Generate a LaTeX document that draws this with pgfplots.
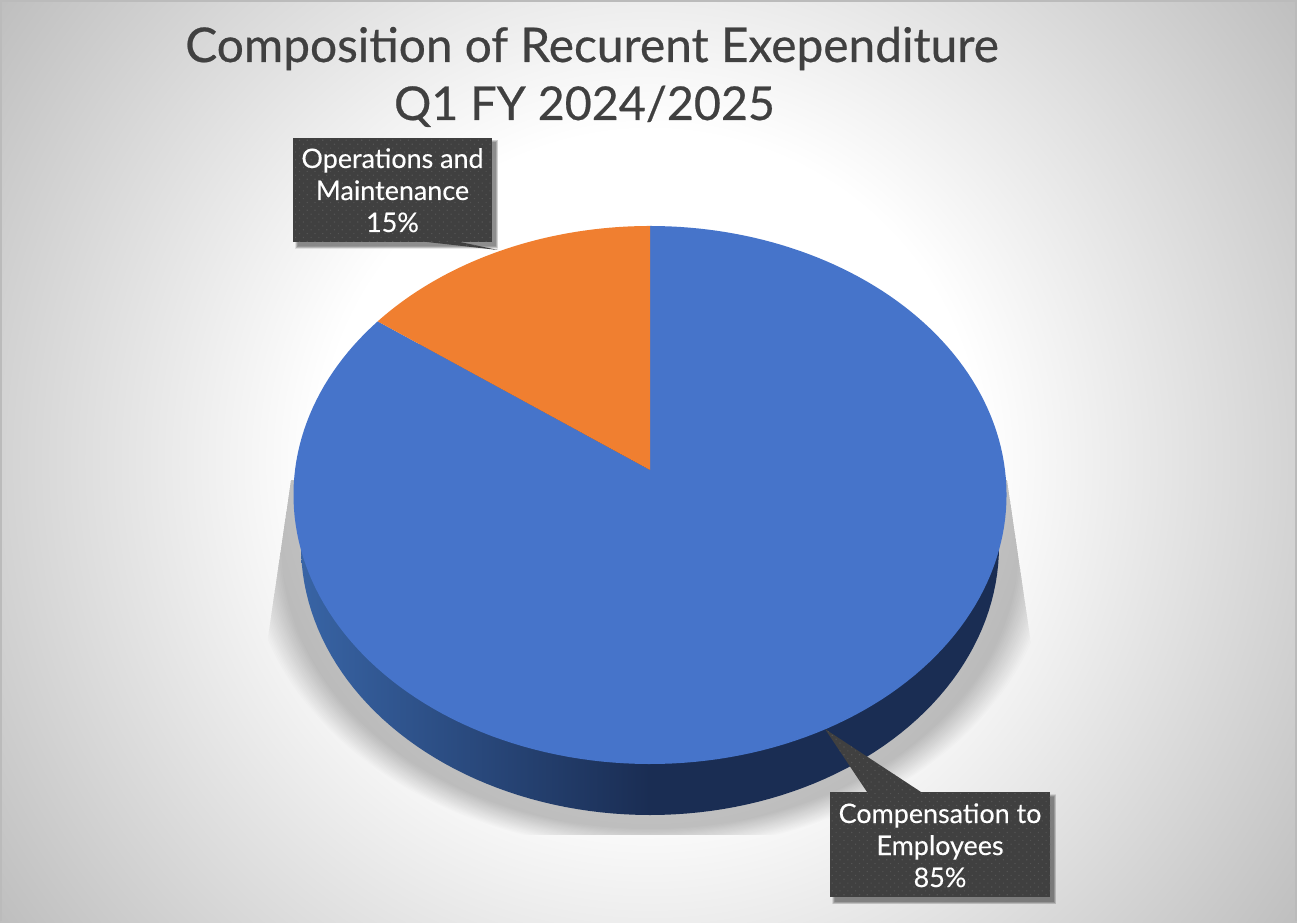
\documentclass[border=0pt]{standalone}
\usepackage{fontspec}
\setmainfont{Lato}
\newfontfamily\titlefont[FakeBold=0.5]{Lato}
\newfontfamily\labelfont[FakeBold=0.3]{Lato}
\usepackage{pgfplots}
\usepackage{pgfplotstable}
\pgfplotsset{compat=1.18}
\usetikzlibrary{patterns.meta}

% Expenditure shares in percent
\pgfplotstableread{
share
85
15
}\sharetable
\pgfplotstablegetelem{0}{share}\of\sharetable\let\shareA\pgfplotsretval
\pgfplotstablegetelem{1}{share}\of\sharetable\let\shareB\pgfplotsretval
\pgfmathsetmacro{\splitangle}{3.6*\shareA}

\definecolor{pieblue}{HTML}{4674CA}
\definecolor{pieorange}{HTML}{F07F30}
\definecolor{wallA}{HTML}{3864A5}
\definecolor{wallB}{HTML}{1A2D53}
\definecolor{calloutbg}{HTML}{404040}
\definecolor{calloutdot}{HTML}{545454}
\definecolor{titlegrey}{HTML}{404040}
\definecolor{edgegrey}{HTML}{BBBBBB}
\definecolor{bgcorner}{HTML}{BEBEBE}
\definecolor{bgfar}{HTML}{A0A0A0}

% Page background: soft round glow, bright in the middle and grey towards the corners.
% TikZ fits the central 50bp of a shading to the path, so 1bp stands for 40 units here.
\pgfdeclareradialshading{pagebg}{\pgfpointorigin}{%
  color(0bp)=(white);
  color(8.25bp)=(white);
  color(20bp)=(bgcorner);
  color(50bp)=(bgfar)}

% Callout box with a soft shadow and a pointer: left, right, top, bottom, pointer path
\newcommand{\callout}[5]{%
  \foreach \sh in {0,1,...,5} {
    \fill[black,opacity=0.09]
      (#1+2+\sh*0.5,#3+2+\sh*0.5) rectangle (#2+6-\sh*0.5,#4+7-\sh*0.5);
  }
  \fill[calloutbg] (#1,#3) rectangle (#2,#4);
  \fill[calloutbg] #5;
  \fill[pattern={Dots[radius=0.8pt,distance=5.5pt,angle=45]},pattern color=calloutdot] (#1,#3) rectangle (#2,#4);
  \fill[pattern={Dots[radius=0.8pt,distance=5.5pt,angle=45]},pattern color=calloutdot] #5;
}
\newcommand{\lab}[3]{\node[anchor=base,text=white,font=\labelfont\fontsize{26.9}{26.9}\selectfont] at (#1,#2) {#3};}

\begin{document}
\begin{tikzpicture}[x=1pt,y=1pt]
\path[use as bounding box] (0,0) rectangle (1297,922);
\begin{scope}
  \clip (0,0) rectangle (1297,922);
  \shade[shading=pagebg] (-350,-539) rectangle (1650,1461);
\end{scope}
% Everything below is placed in pixel-style coordinates, y running downwards
\begin{scope}[shift={(0,922)},yscale=-1]
  % Faint light halo round the cast shadow
  \foreach \tt in {0,...,6} {
    \fill[white,opacity=0.03] (650,548) ellipse [x radius=349+100-\tt*8,y radius=269+90-\tt*8];
  }
  % Cast shadow under the disc, cut off by a trapezoid
  \begin{scope}
    \clip (291,480) -- (268,637) -- (268,835) -- (1032,835) -- (1032,650) -- (1007,480) -- cycle;
    \foreach \tt in {0,...,19} {
      \fill[black,opacity=0.011] (650,548) ellipse [x radius=349+52-\tt*1.7,y radius=269+33-\tt*1.1];
    }
  \end{scope}
\end{scope}
\begin{axis}[
  at={(0pt,0pt)},anchor=south west,
  width=1297pt,height=922pt,scale only axis,
  xmin=0,xmax=1297,ymin=0,ymax=922,y dir=reverse,
  axis lines=none,clip=false,
  samples=181,no markers,
]
% Side wall of the disc
\addplot[draw=none,shading=axis,left color=wallA,right color=wallB,middle color=wallB,domain=0:360]
  ({650+349*sin(x)},{546-269*cos(x)}) -- cycle;
% Top face, one sector per share
\addplot[fill=pieblue,draw=none,domain=0:\splitangle]
  ({650+355*sin(x)/(1+0.0929*cos(x))},{470-266.7*cos(x)/(1+0.0929*cos(x))}) -- (axis cs:650,470) -- cycle;
\addplot[fill=pieorange,draw=none,domain=\splitangle:360]
  ({650+355*sin(x)/(1+0.0929*cos(x))},{470-266.7*cos(x)/(1+0.0929*cos(x))}) -- (axis cs:650,470) -- cycle;
\end{axis}
\begin{scope}[shift={(0,922)},yscale=-1]
  % Callouts
  \callout{293}{492}{138}{242}{(427,242) -- (498,250) -- (460,242) -- cycle}
  \callout{830}{1050}{792}{897}{(867,792) -- (825,729) -- (921,792) -- cycle}
  \lab{392.5}{168}{Operations and}
  \lab{392.5}{200}{Maintenance}
  \lab{392.5}{232}{\shareB\%}
  \lab{940}{823}{Compensation to}
  \lab{940}{855}{Employees}
  \lab{940}{887}{\shareA\%}
  % Title
  \node[anchor=base,text=titlegrey,font=\titlefont\fontsize{47.8}{47.8}\selectfont] at (592,62) {Composition of Recurent Exependiture};
  \node[anchor=base,text=titlegrey,font=\titlefont\fontsize{46.6}{46.6}\selectfont] at (584.5,120) {Q1 FY 2024/2025};
  \draw[edgegrey,line width=2pt] (1,921) -- (1,1) -- (1296,1) -- (1296,921);
\end{scope}
\end{tikzpicture}
\end{document}
